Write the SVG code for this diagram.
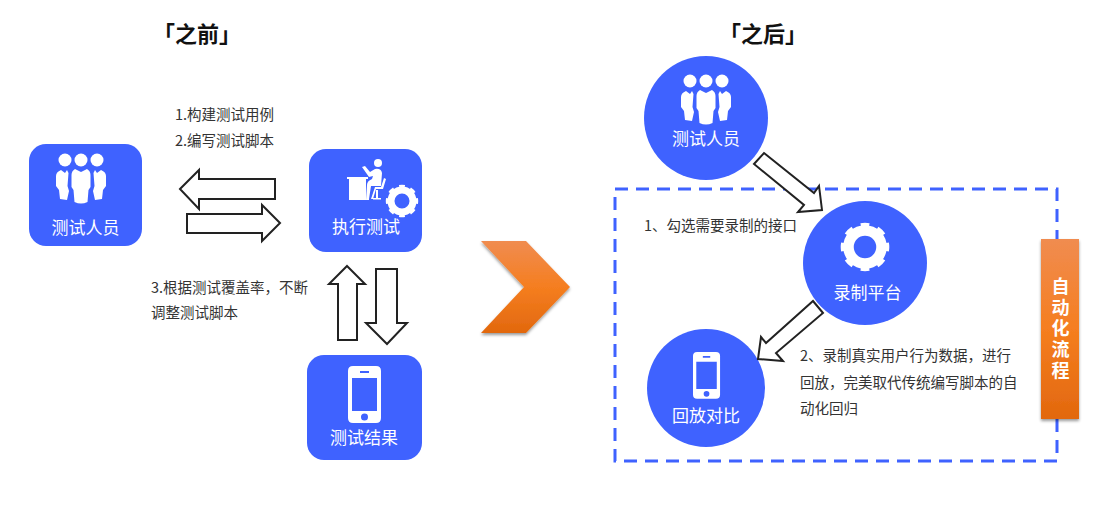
<svg xmlns="http://www.w3.org/2000/svg" width="1108" height="505" viewBox="0 0 1108 505">
<style>
text{font-family:"Noto Sans CJK SC","Liberation Sans",sans-serif}
.title{font-size:22px;font-weight:700;fill:#111;text-anchor:middle}
.label{font-size:17px;fill:#fff;text-anchor:middle}
.note{font-size:14.5px;fill:#333}
.node{fill:#3f62ff}
.arrow{fill:#fff;stroke:#222;stroke-width:2}
.flow{font-size:18px;font-weight:700;fill:#fff;writing-mode:vertical-rl;letter-spacing:3px}
</style>
<defs>
<linearGradient id="orange" x1="0" y1="0" x2="0" y2="1"><stop offset="0" stop-color="#f08c50"/><stop offset=".5" stop-color="#f57e20"/><stop offset="1" stop-color="#e2680e"/></linearGradient>
<filter id="shadow" x="-20%" y="-20%" width="140%" height="140%"><feDropShadow dx="0" dy="2" stdDeviation="1.500" flood-color="#000" flood-opacity=".4"/></filter>
<g id="people" fill="#fff">
<circle cx="-16" cy="0" r="6.500"/><circle cx="0" cy="0" r="6.500"/><circle cx="16" cy="0" r="6.500"/>
<path d="M-6 9 L0 12 L6 9 Q9.500 11 9.500 15 L9.500 27 L7.500 30 L6.500 42 Q0 45 -6.500 42 L-7.500 30 L-9.500 27 L-9.500 15 Q-9.500 11 -6 9Z"/>
<path d="M-20 10 Q-25 12 -25 16 L-25 26 L-22 30 L-21 39 L-14 40 L-12 31 L-13.500 26 L-12.500 13 L-14 10 L-16 13Z"/>
<path d="M20 10 Q25 12 25 16 L25 26 L22 30 L21 39 L14 40 L12 31 L13.500 26 L12.500 13 L14 10 L16 13Z"/>
</g>
<g id="gear" fill="none" stroke="#fff">
<circle r="11" stroke-width="7"/>
<circle r="14.700" stroke-width="3" pathLength="80" stroke-dasharray="5 5" stroke-dashoffset="2.500"/>
</g>
<path id="phone" fill="#fff" fill-rule="evenodd" d="M5 0H28Q33 0 33 5V52Q33 57 28 57H5Q0 57 0 52V5Q0 0 5 0ZM4 12V45H29V12ZM12 5V7H21V5ZM16.500 47.500A3.500 3.500 0 1 0 16.501 54.500A3.500 3.500 0 1 0 16.500 47.500Z"/>
</defs>

<g id="titles">
<text class="title" x="197" y="42">「之前」</text>
<text class="title" x="763" y="42">「之后」</text>
</g>

<g id="notes">
<text class="note" x="175" y="120">1.构建测试用例</text>
<text class="note" x="175" y="146">2.编写测试脚本</text>
<text class="note" x="151" y="293">3.根据测试覆盖率，不断</text>
<text class="note" x="151" y="318">调整测试脚本</text>
<text class="note" x="644" y="231">1、勾选需要录制的接口</text>
<text class="note" x="800" y="361">2、录制真实用户行为数据，进行</text>
<text class="note" x="800" y="388">回放，完美取代传统编写脚本的自</text>
<text class="note" x="800" y="414">动化回归</text>
</g>

<g id="boundary">
<rect x="615" y="189" width="442" height="272" fill="none" stroke="#3f62ff" stroke-width="3" stroke-dasharray="13 8"/>
</g>

<g id="tester-before">
<rect class="node" x="29" y="144" width="113" height="102" rx="17"/>
<use href="#people" x="81" y="160"/>
<text class="label" x="85.500" y="234">测试人员</text>
</g>
<g id="execute">
<rect class="node" x="309" y="149" width="113" height="103" rx="17"/>
<g fill="#fff">
<path d="M347 177H368V179H366V200H349V179H347Z"/>
<circle cx="378" cy="163" r="4"/>
<path d="M362 167L365 166L370 172L375 169Q381 168 382 173L381 186H371L369 199V200H366L367 185Q367 181 372 179L373 176L369 177Z"/>
<path d="M384 178L386 179L383 189H376L373 199H374L371 199L375 187H381Z"/>
<rect x="376" y="190" width="2" height="8"/><rect x="373" y="198" width="8" height="1.500"/>
</g>
<use href="#gear" x="402" y="201"/>
<text class="label" x="366" y="233">执行测试</text>
</g>
<g id="result">
<rect class="node" x="307" y="355" width="115" height="105" rx="17"/>
<use href="#phone" x="348" y="366"/>
<text class="label" x="364" y="444">测试结果</text>
</g>
<g id="tester-after">
<circle class="node" cx="706" cy="118" r="62"/>
<use href="#people" x="706" y="81"/>
<text class="label" x="706" y="145">测试人员</text>
</g>
<g id="platform">
<circle class="node" cx="865" cy="263" r="62"/>
<use href="#gear" transform="translate(865 247) scale(1.500)"/>
<text class="label" x="867.500" y="299">录制平台</text>
</g>
<g id="replay">
<circle class="node" cx="706" cy="388" r="59"/>
<use href="#phone" transform="translate(693 352) scale(.82)"/>
<text class="label" x="706" y="422">回放对比</text>
</g>

<g id="connectors">
<path class="arrow" d="M180 189L199 170V179H275V199H199V209Z"/>
<path class="arrow" d="M187 214H262V205L280 223L262 241V233H187Z"/>
<path class="arrow" d="M347 266L365 284H357V340H338V284H329Z"/>
<path class="arrow" d="M376 269H397V323H407L387 344L366 323H376Z"/>
<path class="arrow" d="M764 153L814 193L819 186L822 210L798 212L804 205L754 164Z"/>
<path class="arrow" d="M813 301L823 313L776 353L783 361L758 359L761 337L766 343Z"/>
</g>

<g id="chevron">
<path d="M481 241H526L570 287L526 333H481L524 287Z" fill="url(#orange)" filter="url(#shadow)"/>
</g>
<g id="automation">
<rect x="1041" y="239" width="38" height="180" fill="url(#orange)" filter="url(#shadow)"/>
<text class="flow" x="1060.500" y="277">自动化流程</text>
</g>
</svg>
